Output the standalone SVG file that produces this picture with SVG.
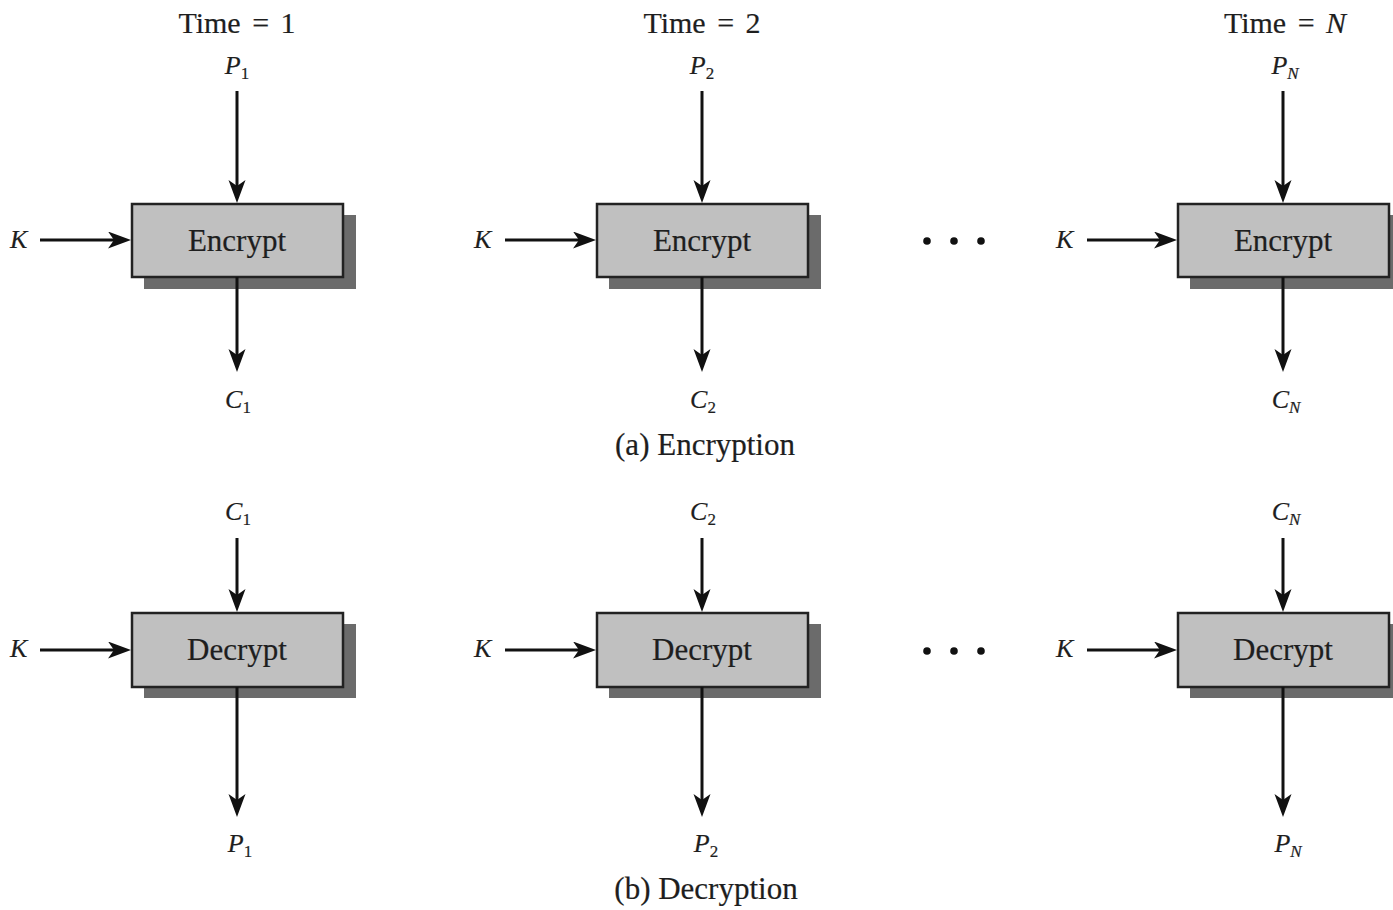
<svg xmlns="http://www.w3.org/2000/svg" width="1393" height="910" viewBox="0 0 1393 910">
  <defs>
    <style>
      text { font-family: "Liberation Serif", "Times New Roman", serif; fill: #1e1e1e; stroke: #1e1e1e; stroke-width: 0.2px; }
      .hdr { font-size: 30px; text-anchor: middle; word-spacing: 4px; }
      .box-label { font-size: 31px; text-anchor: middle; }
      .cap { font-size: 31px; text-anchor: middle; }
      .lbl { font-size: 26px; text-anchor: middle; }
      .k { font-size: 26px; font-style: italic; }
      .it { font-style: italic; }
      .sub { font-size: 17px; }
      .box { fill: #c0c0c0; stroke: #222; stroke-width: 2.5; }
      .shadow { fill: #6b6b6b; }
      .wire { stroke: #111; stroke-width: 3; fill: none; }
      .dot { fill: #111; }
    </style>
    <marker id="arrow" markerUnits="userSpaceOnUse" markerWidth="24" markerHeight="18" refX="10" refY="8.5" orient="auto">
      <path d="M0,0 L23,8.5 L0,17 L6,8.5 Z" fill="#111"/>
    </marker>
  </defs>

  <!-- column headings -->
  <text class="hdr" x="237" y="33">Time = 1</text>
  <text class="hdr" x="702" y="33">Time = 2</text>
  <text class="hdr" x="1285" y="33">Time = <tspan class="it">N</tspan></text>

  <!-- encryption row -->
  <g id="enc1">
    <rect class="shadow" x="144" y="215" width="212" height="74"/>
    <rect class="box" x="132" y="204" width="211" height="73"/>
    <text class="box-label" x="237" y="251">Encrypt</text>
  </g>
  <g id="enc2">
    <rect class="shadow" x="609" y="215" width="212" height="74"/>
    <rect class="box" x="597" y="204" width="211" height="73"/>
    <text class="box-label" x="702" y="251">Encrypt</text>
  </g>
  <g id="enc3">
    <rect class="shadow" x="1190" y="215" width="212" height="74"/>
    <rect class="box" x="1178" y="204" width="211" height="73"/>
    <text class="box-label" x="1283" y="251">Encrypt</text>
  </g>

  <!-- decryption row -->
  <g id="dec1">
    <rect class="shadow" x="144" y="624" width="212" height="74"/>
    <rect class="box" x="132" y="613" width="211" height="74"/>
    <text class="box-label" x="237" y="660">Decrypt</text>
  </g>
  <g id="dec2">
    <rect class="shadow" x="609" y="624" width="212" height="74"/>
    <rect class="box" x="597" y="613" width="211" height="74"/>
    <text class="box-label" x="702" y="660">Decrypt</text>
  </g>
  <g id="dec3">
    <rect class="shadow" x="1190" y="624" width="212" height="74"/>
    <rect class="box" x="1178" y="613" width="211" height="74"/>
    <text class="box-label" x="1283" y="660">Decrypt</text>
  </g>

  <!-- connectors -->
  <g id="connectors">
    <!-- plaintext in -->
    <path class="wire" marker-end="url(#arrow)" d="M237,91 V190"/>
    <path class="wire" marker-end="url(#arrow)" d="M702,91 V190"/>
    <path class="wire" marker-end="url(#arrow)" d="M1283,91 V190"/>
    <!-- ciphertext out -->
    <path class="wire" marker-end="url(#arrow)" d="M237,277 V359"/>
    <path class="wire" marker-end="url(#arrow)" d="M702,277 V359"/>
    <path class="wire" marker-end="url(#arrow)" d="M1283,277 V359"/>
    <!-- key inputs, encryption -->
    <path class="wire" marker-end="url(#arrow)" d="M40,240 H118"/>
    <path class="wire" marker-end="url(#arrow)" d="M505,240 H583"/>
    <path class="wire" marker-end="url(#arrow)" d="M1087,240 H1164"/>
    <!-- ciphertext in -->
    <path class="wire" marker-end="url(#arrow)" d="M237,538 V599"/>
    <path class="wire" marker-end="url(#arrow)" d="M702,538 V599"/>
    <path class="wire" marker-end="url(#arrow)" d="M1283,538 V599"/>
    <!-- plaintext out -->
    <path class="wire" marker-end="url(#arrow)" d="M237,687 V804"/>
    <path class="wire" marker-end="url(#arrow)" d="M702,687 V804"/>
    <path class="wire" marker-end="url(#arrow)" d="M1283,687 V804"/>
    <!-- key inputs, decryption -->
    <path class="wire" marker-end="url(#arrow)" d="M40,650 H118"/>
    <path class="wire" marker-end="url(#arrow)" d="M505,650 H583"/>
    <path class="wire" marker-end="url(#arrow)" d="M1087,650 H1164"/>
  </g>

  <!-- ellipses between columns -->
  <circle class="dot" cx="927" cy="241" r="3.8"/>
  <circle class="dot" cx="954" cy="241" r="3.8"/>
  <circle class="dot" cx="981" cy="241" r="3.8"/>
  <circle class="dot" cx="927" cy="651" r="3.8"/>
  <circle class="dot" cx="954" cy="651" r="3.8"/>
  <circle class="dot" cx="981" cy="651" r="3.8"/>

  <!-- key labels -->
  <text class="k" x="10" y="248">K</text>
  <text class="k" x="474" y="248">K</text>
  <text class="k" x="1056" y="248">K</text>
  <text class="k" x="10" y="657">K</text>
  <text class="k" x="474" y="657">K</text>
  <text class="k" x="1056" y="657">K</text>

  <!-- data labels, encryption -->
  <text class="lbl" x="237" y="74"><tspan class="it">P</tspan><tspan class="sub" dy="5">1</tspan></text>
  <text class="lbl" x="702" y="74"><tspan class="it">P</tspan><tspan class="sub" dy="5">2</tspan></text>
  <text class="lbl" x="1285" y="74"><tspan class="it">P</tspan><tspan class="sub it" dy="5">N</tspan></text>
  <text class="lbl" x="238" y="408"><tspan class="it">C</tspan><tspan class="sub" dy="5">1</tspan></text>
  <text class="lbl" x="703" y="408"><tspan class="it">C</tspan><tspan class="sub" dy="5">2</tspan></text>
  <text class="lbl" x="1286" y="408"><tspan class="it">C</tspan><tspan class="sub it" dy="5">N</tspan></text>
  <text class="cap" x="705" y="455">(a) Encryption</text>

  <!-- data labels, decryption -->
  <text class="lbl" x="238" y="520"><tspan class="it">C</tspan><tspan class="sub" dy="5">1</tspan></text>
  <text class="lbl" x="703" y="520"><tspan class="it">C</tspan><tspan class="sub" dy="5">2</tspan></text>
  <text class="lbl" x="1286" y="520"><tspan class="it">C</tspan><tspan class="sub it" dy="5">N</tspan></text>
  <text class="lbl" x="240" y="852"><tspan class="it">P</tspan><tspan class="sub" dy="5">1</tspan></text>
  <text class="lbl" x="706" y="852"><tspan class="it">P</tspan><tspan class="sub" dy="5">2</tspan></text>
  <text class="lbl" x="1288" y="852"><tspan class="it">P</tspan><tspan class="sub it" dy="5">N</tspan></text>
  <text class="cap" x="706" y="899">(b) Decryption</text>
</svg>
